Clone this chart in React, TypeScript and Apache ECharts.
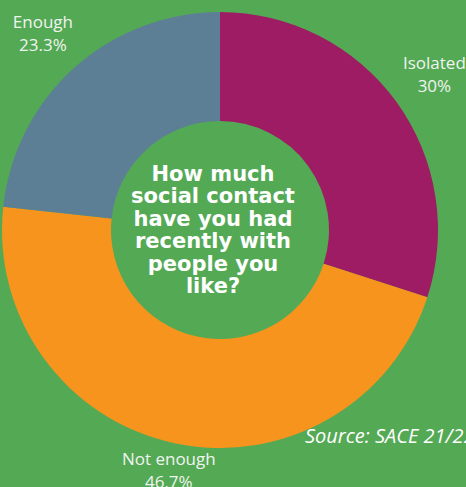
import React, { useEffect, useRef } from "react";
import * as echarts from "echarts";

const categories = ["Isolated", "Not enough", "Enough"];
const values = [30, 46.7, 23.3];
const valueLabels = ["30%", "46.7%", "23.3%"];
const colors = ["#9E1C63", "#F7941E", "#5C7F96"];
const centerTitle = "How much\nsocial contact\nhave you had\nrecently with\npeople you\nlike?";
const sourceText = "Source: SACE 21/22";

const CX = 220;
const CY = 230;
const OUTER = 218;
const INNER = 109;
const LABEL_R = [265, 245, 265];

export default function App() {
  const ref = useRef<HTMLDivElement>(null);
  useEffect(() => {
    if (!ref.current) return;
    const chart = echarts.init(ref.current, null, { renderer: "svg" });
    const total = values.reduce((a, b) => a + b, 0);
    const mids: number[] = [];
    let acc = 0;
    values.forEach((v) => {
      const start = 90 - (acc / total) * 360;
      const end = 90 - ((acc + v) / total) * 360;
      mids.push(((start + end) / 2) * (Math.PI / 180));
      acc += v;
    });
    const labelTexts = categories.map((c, i) => ({
      type: "text",
      x: CX + LABEL_R[i] * Math.cos(mids[i]),
      y: CY - LABEL_R[i] * Math.sin(mids[i]),
      style: {
        text: `${c}\n${valueLabels[i]}`,
        fill: "#F0F4EF",
        font: "17px 'Open Sans'",
        textAlign: "center",
        textVerticalAlign: "middle",
        lineHeight: 23,
      },
      z: 10,
    }));
    chart.setOption({
      animation: false,
      backgroundColor: "#54A955",
      graphic: [
        {
          type: "text",
          x: 213,
          y: CY,
          style: {
            text: centerTitle,
            fill: "#ffffff",
            font: "bold 21px 'DejaVu Sans'",
            textAlign: "center",
            textVerticalAlign: "middle",
            lineHeight: 22.5,
          },
          z: 10,
        },
        {
          type: "text",
          x: 305,
          y: 435,
          style: {
            text: sourceText,
            fill: "#ffffff",
            font: "italic 20px 'Open Sans'",
            textAlign: "left",
            textVerticalAlign: "middle",
          },
          z: 10,
        },
        ...labelTexts,
      ],
      series: [
        {
          type: "pie",
          center: [CX, CY],
          radius: [INNER, OUTER],
          startAngle: 90,
          clockwise: true,
          silent: true,
          data: categories.map((c, i) => ({
            name: c,
            value: values[i],
            itemStyle: { color: colors[i] },
          })),
          label: { show: false },
          labelLine: { show: false },
        },
      ],
    });
    return () => chart.dispose();
  }, []);
  return (
    <div
      ref={ref}
      style={{ position: "fixed", left: 0, top: 0, width: 466, height: 487 }}
    />
  );
}
